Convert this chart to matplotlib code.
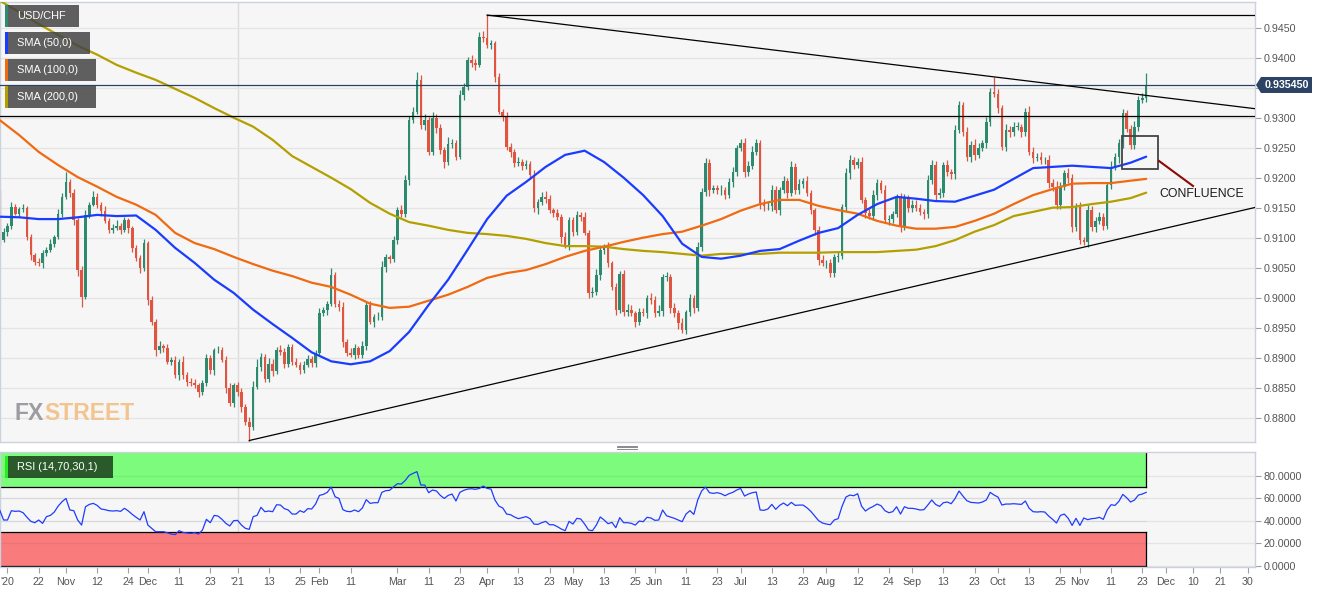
import numpy as np
import pandas as pd
import matplotlib
matplotlib.use("Agg")
import matplotlib.pyplot as plt
from matplotlib.patches import Rectangle, Polygon
from matplotlib.transforms import IdentityTransform

plt.rcParams['font.family'] = ['Liberation Sans', 'DejaVu Sans']

# ------------------------------------------------------------------ data
start_date = "2020-10-08"
first_open = 0.9174

closes = [
    # Oct 2020 - mid Jan 2021
    0.9096, 0.9110, 0.9120, 0.9151, 0.9140, 0.9147, 0.9150, 0.9101, 0.9071, 0.9060,
    0.9057, 0.9075, 0.9079, 0.9090, 0.9101, 0.9140, 0.9168, 0.9193, 0.9174, 0.9129,
    0.9046, 0.9001, 0.9138, 0.9155, 0.9168, 0.9155, 0.9144, 0.9128, 0.9113, 0.9116,
    0.9120, 0.9113, 0.9129, 0.9116, 0.9082, 0.9066, 0.9049, 0.9091, 0.8996, 0.8960,
    0.8913, 0.8919, 0.8916, 0.8893, 0.8896, 0.8871, 0.8893, 0.8871, 0.8860, 0.8857,
    0.8854, 0.8843, 0.8857, 0.8899, 0.8880, 0.8913, 0.8913, 0.8896, 0.8849, 0.8824,
    0.8854, 0.8843, 0.8818, 0.8793, 0.8785, 0.8851, 0.8885, 0.8901, 0.8865, 0.8890,
    0.8877, 0.8913, 0.8910, 0.8890, 0.8918,
    # mid Jan - end Apr 2021
    0.8893, 0.8888, 0.8880, 0.8888, 0.8897, 0.8891, 0.8908, 0.8974, 0.8979, 0.8990,
    0.9038, 0.8990, 0.8985, 0.8926, 0.8908, 0.8905, 0.8916, 0.8905, 0.8920, 0.8988,
    0.8960, 0.8968, 0.8968, 0.9051, 0.9067, 0.9064, 0.9096, 0.9146, 0.9140, 0.9196,
    0.9296, 0.9310, 0.9363, 0.9288, 0.9296, 0.9243, 0.9300, 0.9283, 0.9246, 0.9226,
    0.9256, 0.9258, 0.9235, 0.9338, 0.9351, 0.9396, 0.9391, 0.9388, 0.9435, 0.9433,
    0.9421, 0.9424, 0.9368, 0.9310, 0.9301, 0.9251, 0.9243, 0.9224, 0.9226, 0.9220,
    0.9222, 0.9204, 0.9149, 0.9159, 0.9168, 0.9165, 0.9146, 0.9141, 0.9135, 0.9101,
    0.9088, 0.9129, 0.9109,
    # May - Aug 2021
    0.9138, 0.9135, 0.9108, 0.9007, 0.9010, 0.9038, 0.9079, 0.9084, 0.9057, 0.9018,
    0.8979, 0.9040, 0.8976, 0.8980, 0.8974, 0.8960, 0.8976, 0.8974, 0.8999, 0.8996,
    0.8974, 0.8978, 0.9035, 0.9035, 0.8982, 0.8974, 0.8958, 0.8946, 0.8976, 0.8999,
    0.8982, 0.9084, 0.9176, 0.9224, 0.9179, 0.9182, 0.9179, 0.9180, 0.9171, 0.9193,
    0.9209, 0.9249, 0.9258, 0.9209, 0.9220, 0.9243, 0.9258, 0.9157, 0.9152, 0.9152,
    0.9180, 0.9146, 0.9180, 0.9195, 0.9175, 0.9218, 0.9179, 0.9190, 0.9195, 0.9174,
    0.9146, 0.9113, 0.9062, 0.9057, 0.9057, 0.9041, 0.9067, 0.9070, 0.9151, 0.9207,
    0.9229, 0.9221, 0.9226,
    # Aug - Nov 2021
    0.9163, 0.9141, 0.9136, 0.9171, 0.9191, 0.9180, 0.9129, 0.9131, 0.9140, 0.9166,
    0.9118, 0.9166, 0.9150, 0.9155, 0.9150, 0.9143, 0.9140, 0.9196, 0.9221, 0.9171,
    0.9175, 0.9221, 0.9209, 0.9206, 0.9279, 0.9321, 0.9276, 0.9234, 0.9255, 0.9238,
    0.9250, 0.9258, 0.9293, 0.9343, 0.9340, 0.9316, 0.9251, 0.9280, 0.9276, 0.9285,
    0.9285, 0.9276, 0.9310, 0.9243, 0.9232, 0.9235, 0.9229, 0.9229, 0.9191, 0.9185,
    0.9154, 0.9185, 0.9208, 0.9200, 0.9118, 0.9151, 0.9096, 0.9093, 0.9146, 0.9118,
    0.9128, 0.9135, 0.9120, 0.9188, 0.9218, 0.9234, 0.9258, 0.9307, 0.9281, 0.9254,
    0.9285, 0.9330, 0.9333, 0.93545,
]

wick_up_pips = [
    5, 6, 4, 8, 5, 4, 6, 3, 5, 4, 6, 4, 5, 7, 3, 8, 6, 16, 5, 7, 4, 6, 8, 5, 10,
    6, 4, 8, 5, 7, 9, 5, 6, 4, 3, 6, 5, 7, 4, 6, 5, 8, 4, 6, 5, 7, 4, 9, 5, 6,
    8, 4, 5, 7, 6, 3, 7, 5, 6, 8, 4, 6, 7, 5, 8, 10, 12, 6, 5, 9, 7, 5, 8, 6, 4,
    5, 7, 4, 6, 8, 5, 4, 9, 6, 5, 12, 4, 6, 7, 5, 8, 6, 4, 7, 5, 6, 5, 8, 10, 6,
    4, 7, 5, 8, 9, 6, 7, 13, 8, 10, 5, 9, 6, 7, 5, 12, 6, 4, 8, 7, 5, 9, 6, 8, 10,
    38, 6, 4, 7, 5, 9, 6, 4, 8, 5, 7, 6, 9, 5, 8, 10, 6, 4, 7, 5, 8, 6, 5,
    6, 5, 8, 4, 7, 9, 5, 6, 8, 4, 7, 5, 6, 9, 8, 4, 6, 7, 5, 8, 6, 10, 4, 7, 5,
    9, 6, 8, 4, 7, 5, 8, 6, 9, 7, 5, 6, 8, 4, 7, 9, 5, 6, 8, 7, 10, 6, 5, 8, 9,
    7, 6, 5, 8, 4, 9, 6, 7, 5, 8, 6, 4, 7, 9, 5, 8, 6, 7, 5, 9, 8, 6, 7,
    8, 5, 6, 9, 7, 5, 8, 6, 4, 7, 9, 6, 5, 8, 7, 6, 5, 9, 8, 6, 7, 5, 8, 6, 9,
    7, 5, 8, 6, 9, 7, 5, 8, 6, 25, 7, 5, 9, 6, 8, 7, 5, 6, 9, 8, 6, 7, 5, 8, 6,
    9, 7, 5, 8, 6, 7, 9, 5, 8, 6, 7, 8, 6, 5, 9, 7, 6, 8, 5, 7, 9, 6, 8, 20,
]

wick_dn_pips = [
    6, 4, 7, 5, 3, 6, 4, 5, 8, 6, 4, 7, 5, 3, 6, 4, 5, 3, 6, 8, 10, 17, 4, 6, 3,
    5, 8, 4, 6, 5, 3, 7, 4, 9, 6, 5, 8, 4, 8, 6, 10, 5, 7, 4, 6, 5, 8, 6, 7, 5,
    4, 8, 6, 5, 7, 9, 6, 4, 8, 5, 6, 7, 9, 6, 25, 5, 4, 7, 6, 5, 8, 4, 6, 7, 5,
    6, 4, 8, 5, 3, 7, 6, 4, 5, 8, 4, 6, 7, 9, 5, 4, 8, 6, 5, 7, 4, 9, 6, 5, 8,
    6, 4, 7, 5, 6, 8, 5, 4, 7, 9, 6, 5, 8, 6, 10, 5, 7, 6, 4, 8, 5, 6, 9, 4, 7,
    5, 6, 8, 4, 7, 5, 9, 6, 4, 8, 5, 7, 6, 9, 4, 8, 5, 7, 6, 10, 5, 8, 6,
    5, 7, 4, 8, 6, 5, 9, 7, 6, 5, 8, 4, 6, 7, 5, 9, 6, 5, 8, 7, 6, 5, 9, 7, 8,
    6, 10, 5, 7, 6, 8, 5, 6, 7, 9, 5, 6, 8, 7, 5, 9, 6, 5, 8, 7, 6, 5, 9, 8, 6,
    7, 5, 8, 6, 9, 5, 7, 6, 8, 5, 6, 9, 7, 5, 8, 6, 7, 8, 5, 6, 9, 7, 5,
    6, 8, 5, 7, 9, 6, 5, 8, 7, 6, 9, 5, 7, 8, 6, 5, 9, 7, 6, 8, 5, 7, 6, 9, 8,
    5, 7, 6, 8, 9, 6, 5, 8, 7, 6, 9, 5, 7, 8, 6, 5, 9, 7, 6, 8, 5, 7, 6, 9, 8,
    7, 6, 5, 9, 8, 7, 6, 5, 8, 7, 9, 6, 8, 5, 7, 6, 9, 8, 5, 7, 6, 8, 5, 7,
]

# moving averages, one reading every 5th session plus the last session
sma_step = 5
sma50 = [0.9135, 0.9134, 0.9131, 0.9131, 0.9134, 0.9138, 0.9136, 0.9137, 0.9113, 0.9083,
         0.9058, 0.9030, 0.9008, 0.8980, 0.8956, 0.8933, 0.8909, 0.8894, 0.8889, 0.8894,
         0.8911, 0.8943, 0.8988, 0.9030, 0.9080, 0.9131, 0.9170, 0.9193, 0.9218, 0.9238,
         0.9245, 0.9226, 0.9200, 0.9171, 0.9136, 0.9090, 0.9068, 0.9065, 0.9070, 0.9078,
         0.9081, 0.9095, 0.9108, 0.9116, 0.9138, 0.9156, 0.9168, 0.9165, 0.9161, 0.9160,
         0.9170, 0.9180, 0.9198, 0.9216, 0.9218, 0.9220, 0.9218, 0.9216, 0.9225, 0.9235]
sma100 = [0.9296, 0.9271, 0.9243, 0.9221, 0.9201, 0.9185, 0.9168, 0.9155, 0.9138, 0.9108,
          0.9091, 0.9081, 0.9068, 0.9056, 0.9045, 0.9036, 0.9025, 0.9018, 0.9005, 0.8990,
          0.8983, 0.8985, 0.8995, 0.9005, 0.9018, 0.9033, 0.9041, 0.9046, 0.9056, 0.9068,
          0.9078, 0.9085, 0.9093, 0.9100, 0.9106, 0.9110, 0.9120, 0.9131, 0.9145, 0.9156,
          0.9163, 0.9163, 0.9153, 0.9146, 0.9140, 0.9128, 0.9120, 0.9115, 0.9115, 0.9118,
          0.9128, 0.9140, 0.9156, 0.9171, 0.9181, 0.9190, 0.9191, 0.9191, 0.9195, 0.9198]
sma200 = [0.9495, 0.9476, 0.9456, 0.9438, 0.9420, 0.9405, 0.9388, 0.9375, 0.9363, 0.9348,
          0.9333, 0.9316, 0.9300, 0.9285, 0.9263, 0.9236, 0.9218, 0.9200, 0.9181, 0.9158,
          0.9140, 0.9126, 0.9120, 0.9113, 0.9108, 0.9106, 0.9103, 0.9098, 0.9091, 0.9086,
          0.9086, 0.9085, 0.9081, 0.9078, 0.9076, 0.9073, 0.9070, 0.9073, 0.9073, 0.9073,
          0.9075, 0.9075, 0.9075, 0.9076, 0.9076, 0.9076, 0.9078, 0.9080, 0.9086, 0.9096,
          0.9110, 0.9121, 0.9136, 0.9143, 0.9150, 0.9151, 0.9156, 0.9160, 0.9166, 0.9175]

rsi = [
    49.5, 40.6, 40.6, 48.9, 48.3, 48.6, 47.1, 43.0, 39.4, 38.2,
    40.6, 37.6, 43.6, 44.7, 47.7, 53.0, 56.9, 59.8, 49.5, 48.9,
    40.6, 36.1, 52.4, 54.5, 55.4, 53.6, 50.4, 49.8, 48.9, 48.6,
    48.9, 48.3, 51.0, 48.6, 45.6, 43.0, 40.6, 48.0, 36.1, 33.2,
    30.2, 30.2, 30.2, 29.3, 28.1, 27.6, 31.1, 29.6, 29.1, 28.7,
    29.3, 28.1, 31.7, 41.2, 38.2, 44.7, 44.1, 41.2, 37.6, 35.3,
    40.0, 40.3, 36.1, 33.2, 32.3, 43.6, 44.7, 51.9, 48.0, 48.6,
    48.0, 54.2, 53.9, 50.7, 49.5, 45.9, 45.9, 48.9, 47.4, 50.7,
    50.4, 54.8, 62.5, 63.4, 65.2, 69.9, 61.3, 59.8, 49.8, 48.3,
    48.0, 49.5, 48.0, 51.3, 58.7, 55.4, 56.0, 56.0, 65.2, 66.7,
    67.0, 70.2, 72.9, 72.6, 75.8, 80.3, 82.1, 83.6, 71.7, 71.7,
    64.9, 67.3, 66.4, 62.5, 59.8, 62.5, 63.7, 57.5, 65.2, 67.0,
    68.1, 68.4, 67.9, 68.7, 70.8, 68.7, 68.1, 58.4, 53.0, 51.3,
    45.9, 45.3, 43.3, 41.8, 42.7, 43.6, 41.8, 37.0, 36.7, 38.2,
    39.4, 36.4, 36.4, 34.7, 32.6, 31.1, 39.4, 37.0, 42.1, 41.5,
    37.0, 31.7, 31.1, 36.1, 43.3, 40.6, 37.3, 38.5, 33.8, 42.7,
    38.2, 38.2, 37.6, 36.1, 39.7, 39.1, 43.0, 42.4, 40.3, 40.6,
    49.5, 44.4, 43.3, 42.1, 40.6, 39.1, 45.9, 48.9, 45.6, 58.4,
    66.4, 69.9, 64.9, 64.3, 64.9, 64.0, 62.2, 64.0, 65.2, 67.3,
    68.7, 61.9, 63.7, 64.9, 65.5, 49.5, 49.2, 50.4, 54.5, 50.1,
    53.6, 55.7, 53.3, 56.3, 53.6, 53.9, 53.9, 51.5, 48.3, 44.1,
    40.0, 37.9, 37.0, 36.4, 40.6, 41.8, 52.7, 61.0, 62.8, 62.2,
    64.0, 53.0, 48.6, 51.0, 52.7, 54.8, 53.3, 48.9, 47.1, 48.0,
    52.4, 45.9, 52.4, 51.0, 51.0, 50.4, 49.5, 49.8, 53.9, 58.4,
    54.5, 52.7, 56.0, 56.6, 55.1, 59.8, 66.4, 61.9, 57.8, 56.3,
    56.0, 55.7, 56.6, 58.4, 65.2, 62.8, 61.0, 53.9, 54.8, 54.8,
    55.1, 54.8, 54.5, 57.5, 51.0, 48.0, 47.7, 48.0, 47.7, 44.1,
    41.2, 37.9, 44.7, 45.9, 42.1, 35.8, 42.1, 35.8, 42.4, 40.9,
    41.8, 42.1, 43.0, 41.2, 49.5, 54.2, 53.6, 57.2, 63.4, 60.4,
    56.6, 58.4, 62.8, 63.7, 65.2,
]

last_price = 0.93545
resistance_level = 0.9302
peak_point = ("2021-04-01", 0.9471)
trend_down = [("2021-04-01", 0.9471), ("2021-09-30", 0.9368)]
trend_up = [("2021-01-06", 0.8762), ("2021-12-31", 0.9149)]
confluence_box = ("2021-11-16", "2021-11-29", 0.92145, 0.92695)

tick_dates = ["2020-10-12", "2020-10-22", "2020-11-02", "2020-11-12", "2020-11-24",
              "2020-12-01", "2020-12-11", "2020-12-23", "2021-01-01", "2021-01-13",
              "2021-01-25", "2021-02-01", "2021-02-11", "2021-03-01", "2021-03-11",
              "2021-03-23", "2021-04-01", "2021-04-13", "2021-04-23", "2021-05-03",
              "2021-05-13", "2021-05-25", "2021-06-01", "2021-06-11", "2021-06-23",
              "2021-07-01", "2021-07-13", "2021-07-23", "2021-08-02", "2021-08-12",
              "2021-08-24", "2021-09-01", "2021-09-13", "2021-09-23", "2021-10-01",
              "2021-10-13", "2021-10-25", "2021-11-01", "2021-11-11", "2021-11-23",
              "2021-12-01", "2021-12-10", "2021-12-21", "2021-12-30"]
tick_labels = ["'20", "22", "Nov", "12", "24", "Dec", "11", "23", "'21", "13",
               "25", "Feb", "11", "Mar", "11", "23", "Apr", "13", "23", "May",
               "13", "25", "Jun", "11", "23", "Jul", "13", "23", "Aug", "12",
               "24", "Sep", "13", "23", "Oct", "13", "25", "Nov", "11", "23",
               "Dec", "10", "21", "30"]

# ------------------------------------------------------------------ setup
W, H, DPI = 1331, 593, 100
fig = plt.figure(figsize=(W / DPI, H / DPI), dpi=DPI, facecolor='white')


def fx(px):
    return px / W


def fy(py):
    return 1 - py / H


ax = fig.add_axes([0, fy(442), fx(1255), (442 - 2) / H])
ax2 = fig.add_axes([0, fy(567), fx(1255), (567 - 452) / H])

dates = pd.bdate_range(start_date, "2022-01-10")


def bidx(d):
    return dates.get_loc(pd.Timestamp(d))


n = len(closes)
x = np.arange(n)
c = np.array(closes)
o = np.r_[first_open, c[:-1]]
hi = np.maximum(o, c) + np.array(wick_up_pips[:n]) * 1e-4
lo = np.minimum(o, c) - np.array(wick_dn_pips[:n]) * 1e-4

XL = (0.08, 321.9)
UPC, DNC = '#2e8a6e', '#e0553f'
GRID = '#e4e4e4'
SPINE = '#ccd1de'
TXT = '#555555'

for a in (ax, ax2):
    a.set_facecolor('#f6f6f6')
    a.set_xlim(*XL)
    for s in a.spines.values():
        s.set_color(SPINE)
        s.set_linewidth(1)
    a.yaxis.tick_right()
    a.tick_params(axis='y', direction='out', length=4, width=0.8, color='#9aa0ad',
                  labelsize=7.7, labelcolor=TXT, pad=2)
    a.axvline(bidx("2021-01-01"), color='#dcdcdc', lw=1, zorder=0.5)

# ------------------------------------------------------------------ main panel
ax.set_ylim(0.87595, 0.94928)
yt = np.round(np.arange(0.8800, 0.94501, 0.005), 4)
ax.set_yticks(yt)
# the 0.9350 label sits under the last-price tag, as in the original
ax.set_yticklabels(["" if abs(v - 0.935) < 1e-6 else f"{v:.4f}" for v in yt])
ax.set_xticks([])
ax.grid(axis='y', color=GRID, lw=0.9, zorder=0)
ax.set_axisbelow(True)

cols = np.where(c >= o, UPC, DNC)
ax.vlines(x, lo, hi, colors=cols, lw=0.9, zorder=2)
body = np.maximum(np.abs(c - o), 0.00004)
ax.bar(x, body, bottom=np.minimum(o, c), width=0.66, color=cols, lw=0, zorder=2.1)

sx = np.r_[np.arange(0, n - 1, sma_step)[:len(sma50) - 1], n - 1]
ax.plot(sx, sma200, color='#b3a000', lw=1.6, zorder=3, solid_capstyle='round')
ax.plot(sx, sma100, color='#f06a12', lw=1.6, zorder=3, solid_capstyle='round')
ax.plot(sx, sma50, color='#1a3cff', lw=1.6, zorder=3.2, solid_capstyle='round')

# price line and levels
ax.axhline(last_price, color='#2d4366', lw=0.9, zorder=3.5)
ax.axhline(resistance_level, color='black', lw=0.9, zorder=3.5)
ax.plot([bidx(peak_point[0]), XL[1]], [peak_point[1], peak_point[1]], color='black', lw=0.9, zorder=3.5)


def trend(pts):
    (d1, p1), (d2, p2) = pts
    x1, x2 = bidx(d1), bidx(d2)
    slope = (p2 - p1) / (x2 - x1)
    return [x1, XL[1]], [p1, p1 + slope * (XL[1] - x1)]


tx, ty = trend(trend_down)
ax.plot(tx, ty, color='black', lw=0.9, zorder=3.5)
tx, ty = trend(trend_up)
ax.plot(tx, ty, color='black', lw=0.9, zorder=3.5)

b0, b1, p0, p1 = confluence_box
bx0, bx1 = bidx(b0) - 0.1, bidx(b1)
ax.add_patch(Rectangle((bx0, p0), bx1 - bx0, p1 - p0, fill=False, edgecolor='#444444',
                       lw=1.3, zorder=4))
ax.plot([bx1 + 0.3, bidx("2021-12-10")], [0.92278, 0.91862], color='#8b0a0a', lw=1.5, zorder=4)
ax.text(bx1 + 0.3, 0.91728, "CONFLUENCE", fontsize=8.8, color='#1a1a1a', va='center',
        ha='left', zorder=5)

# ------------------------------------------------------------------ RSI panel
ax2.set_ylim(-1.2, 101.1)
rt = [0, 20, 40, 60, 80]
ax2.set_yticks(rt)
ax2.set_yticklabels([f"{v:.4f}" for v in rt])
ax2.grid(axis='y', color=GRID, lw=0.9, zorder=0)
ax2.set_axisbelow(True)
xe = n - 1
ax2.fill_between([XL[0] - 1, xe], 70, 100, color='#7cfb7c', lw=0, zorder=1)
ax2.fill_between([XL[0] - 1, xe], 0, 30, color='#f97b7b', lw=0, zorder=1)
for yy in (20, 40, 60, 80):
    ax2.plot([XL[0], xe], [yy, yy], color='#000000', alpha=0.05, lw=0.9, zorder=1.1)
kw = dict(color='black', lw=0.9, zorder=2)
ax2.plot([XL[0] - 1, xe], [70, 70], **kw)
ax2.plot([XL[0] - 1, xe], [30, 30], **kw)
ax2.plot([XL[0] - 1, xe], [0, 0], **kw)
ax2.plot([xe, xe], [70, 100], **kw)
ax2.plot([xe, xe], [0, 30], **kw)
ax2.plot(x, rsi[:n], color='#1f3cff', lw=0.9, zorder=3)

ax2.set_xticks([bidx(d) for d in tick_dates])
ax2.set_xticklabels(tick_labels)
ax2.tick_params(axis='x', direction='out', length=4, width=0.8, color='#9aa0ad',
                labelsize=7.7, labelcolor=TXT, pad=3)

# ------------------------------------------------------------------ chrome
legend = [("USD/CHF", 79, 5, '#2e8a72'), ("SMA (50,0)", 90, 32, '#1a3cff'),
          ("SMA (100,0)", 96, 59, '#f06a12'), ("SMA (200,0)", 96, 86, '#b3a000')]
for label, xr, yt0, col in legend:
    fig.add_artist(Rectangle((fx(5), fy(yt0 + 22)), fx(xr - 5), 22 / H,
                             transform=fig.transFigure, facecolor='#444444', alpha=0.85, lw=0))
    fig.add_artist(Rectangle((fx(5), fy(yt0 + 22)), fx(2.5), 22 / H,
                             transform=fig.transFigure, facecolor=col, lw=0))
    fig.text(fx(17), fy(yt0 + 11), label, color='white', fontsize=7.9, va='center', ha='left')

fig.add_artist(Rectangle((fx(5), fy(478)), fx(108), 22 / H, transform=fig.transFigure,
                         facecolor='#1f421f', alpha=0.88, lw=0))
fig.add_artist(Rectangle((fx(5), fy(478)), fx(2.5), 22 / H, transform=fig.transFigure,
                         facecolor='#22ee22', lw=0))
fig.text(fx(17), fy(467), "RSI (14,70,30,1)", color='white', fontsize=7.9, va='center', ha='left')

# FXSTREET watermark
t1 = fig.text(fx(15), fy(420), "FX", color='#9c9ca2', fontsize=16.5, fontweight='bold',
              va='baseline', ha='left', zorder=0.6)
fig.canvas.draw()
bb = t1.get_window_extent()
fig.text(bb.x1 / W, fy(420), "STREET", color='#f2c48f', fontsize=16.5, fontweight='bold',
         va='baseline', ha='left', zorder=0.6)

# separator handle
for yy in (445.5, 447.2, 448.9):
    fig.add_artist(plt.Line2D([fx(617), fx(637)], [fy(yy), fy(yy)], color='#777777', lw=0.6,
                              transform=fig.transFigure))

# price tag
yd = ax.transData.transform((XL[0], last_price))[1]
tag = Polygon([(1256, yd), (1261, yd + 8), (1312, yd + 8), (1312, yd - 8), (1261, yd - 8)],
              closed=True, facecolor='#2d4366', edgecolor='none', transform=IdentityTransform())
fig.add_artist(tag)
fig.text(1286.5, yd, f"{last_price:.6f}", transform=IdentityTransform(), color='white',
         fontsize=7.7, fontweight='bold', ha='center', va='center')

fig.savefig("out.png", dpi=DPI, facecolor='white')
